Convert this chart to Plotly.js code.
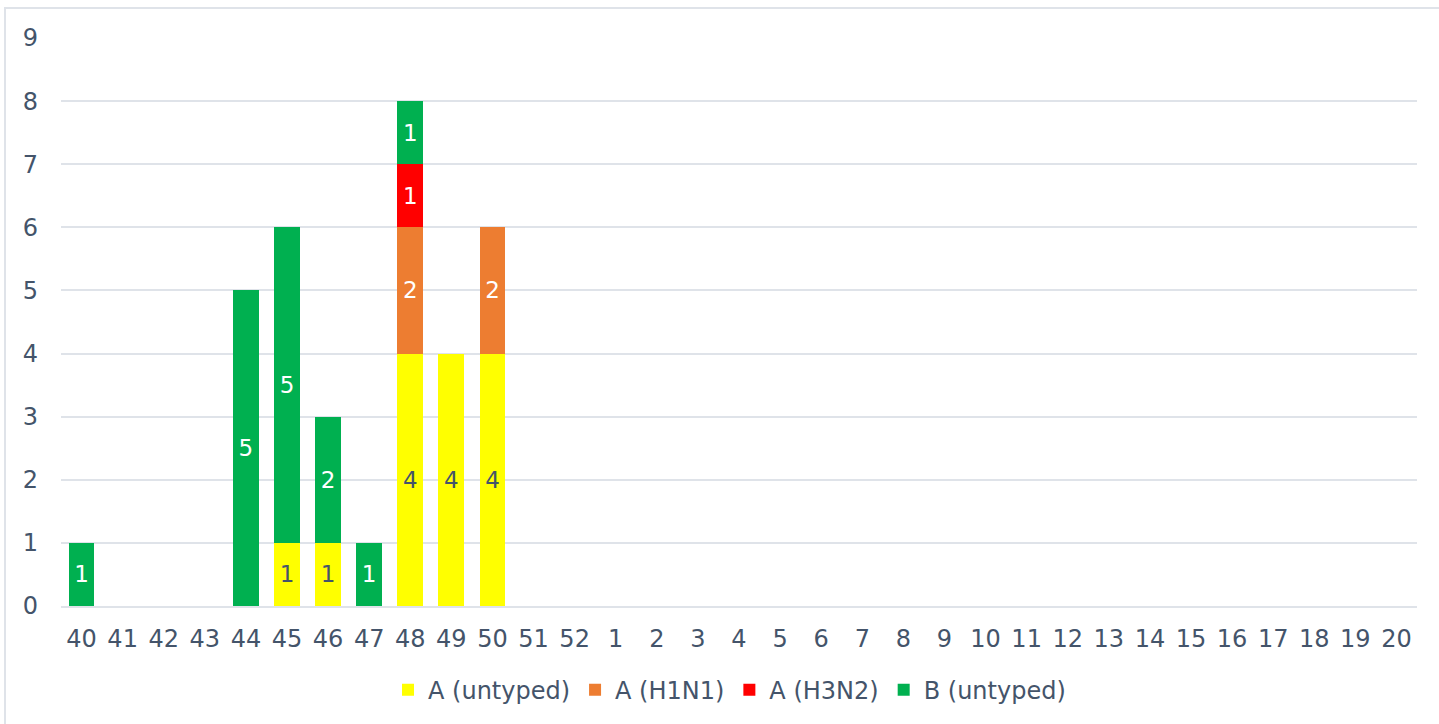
<!DOCTYPE html>
<html>
<head>
<meta charset="utf-8">
<script src="https://cdn.plot.ly/plotly-3.0.1.min.js"></script>
<style>
  html, body { margin: 0; padding: 0; background: #ffffff; overflow: hidden; }
  #frame { position: absolute; left: 4px; top: 7px; right: -10px; bottom: -10px;
           border-left: 2px solid #dfe3e9; border-top: 2px solid #dfe3e9; }
  #chart { position: absolute; left: 0; top: 0; width: 1439px; height: 724px; }
</style>
</head>
<body>
<div id="frame"></div>
<div id="chart"></div>
<script>
const weeks = ['40','41','42','43','44','45','46','47','48','49','50','51','52',
               '1','2','3','4','5','6','7','8','9','10','11','12','13','14','15','16','17','18','19','20'];
const seriesNames = ['A (untyped)', 'A (H1N1)', 'A (H3N2)', 'B (untyped)'];
const seriesColors = ['#ffff00', '#ed7d31', '#ff0000', '#00b050'];
const seriesTextColors = ['#44546a', '#ffffff', '#ffffff', '#ffffff'];
// values per week (null = no detections)
const aUntyped = [null,null,null,null,null,1,1,null,4,4,4,null,null,null,null,null,null,null,null,null,null,null,null,null,null,null,null,null,null,null,null,null,null];
const aH1N1    = [null,null,null,null,null,null,null,null,2,null,2,null,null,null,null,null,null,null,null,null,null,null,null,null,null,null,null,null,null,null,null,null,null];
const aH3N2    = [null,null,null,null,null,null,null,null,1,null,null,null,null,null,null,null,null,null,null,null,null,null,null,null,null,null,null,null,null,null,null,null,null];
const bUntyped = [1,null,null,null,5,5,2,1,1,null,null,null,null,null,null,null,null,null,null,null,null,null,null,null,null,null,null,null,null,null,null,null,null];
const yTicks = [0,1,2,3,4,5,6,7,8,9];

const FS = 24;
const allValues = [aUntyped, aH1N1, aH3N2, bUntyped];
const traces = allValues.map((vals, i) => ({
  type: 'bar',
  name: seriesNames[i],
  x: weeks,
  y: vals,
  text: vals.map(v => v == null ? '' : String(v)),
  textposition: 'inside',
  insidetextanchor: 'middle',
  textangle: 0,
  constraintext: 'none',
  insidetextfont: { family: 'DejaVu Sans, Verdana, sans-serif', size: 23, color: seriesTextColors[i] },
  marker: { color: seriesColors[i], line: { width: 0 } },
  hoverinfo: 'x+y+name'
}));

const layout = {
  width: 1439, height: 724,
  barmode: 'stack',
  bargap: 0.37,
  paper_bgcolor: 'rgba(0,0,0,0)',
  plot_bgcolor: 'rgba(0,0,0,0)',
  margin: { l: 61, r: 22, t: 38, b: 118 },
  font: { family: 'DejaVu Sans, Verdana, sans-serif', size: FS, color: '#44546a' },
  xaxis: {
    type: 'category',
    categoryorder: 'array', categoryarray: weeks,
    tickfont: { size: FS, color: '#44546a' },
    showgrid: false,
    showline: true, linecolor: '#dfe3e9', linewidth: 2,
    ticks: '', ticklabelstandoff: 10,
    zeroline: false
  },
  yaxis: {
    range: [0, 9],
    tickvals: yTicks,
    tickfont: { size: FS, color: '#44546a' },
    showgrid: true, gridcolor: '#dfe3e9', gridwidth: 2,
    zeroline: false, showline: false,
    ticks: '', ticklabelstandoff: 22
  },
  legend: {
    orientation: 'h',
    x: 0.493, xanchor: 'center',
    y: -0.148, yanchor: 'middle',
    font: { size: FS, color: '#44546a' },
    itemwidth: 30,
    traceorder: 'normal'
  },
  showlegend: true
};

Plotly.newPlot('chart', traces, layout, { displayModeBar: false, staticPlot: true });
</script>
</body>
</html>
